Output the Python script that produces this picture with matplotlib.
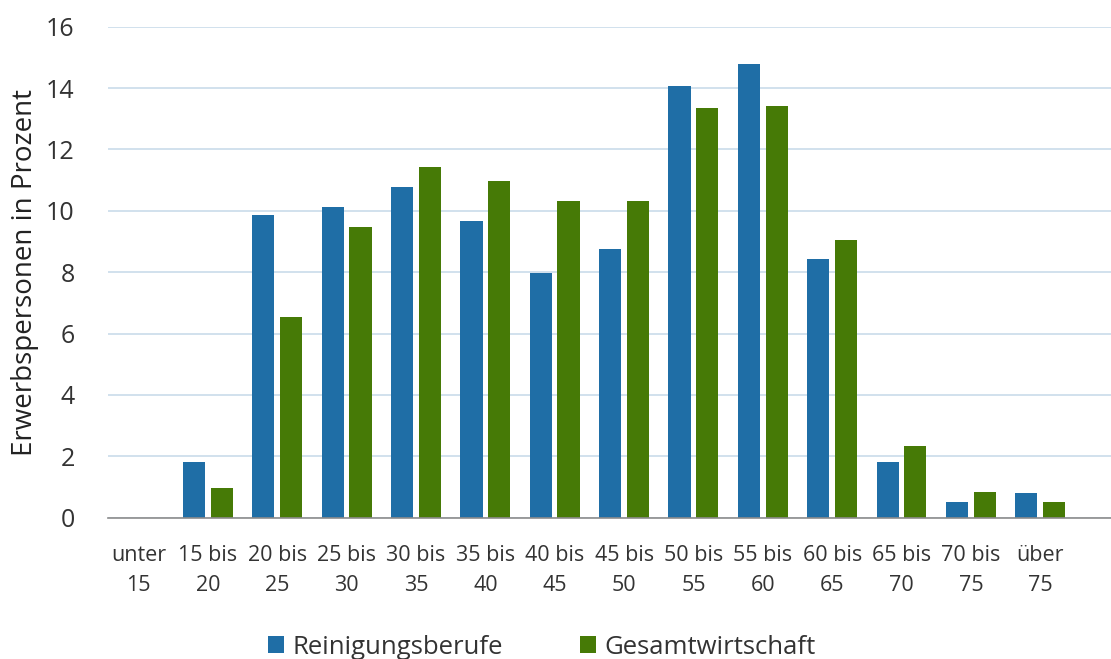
import numpy as np
import matplotlib
matplotlib.use("Agg")
import matplotlib.pyplot as plt

plt.rcParams['font.family'] = ['Open Sans', 'DejaVu Sans']

categories = ["unter\n15", "15 bis\n20", "20 bis\n25", "25 bis\n30", "30 bis\n35",
              "35 bis\n40", "40 bis\n45", "45 bis\n50", "50 bis\n55", "55 bis\n60",
              "60 bis\n65", "65 bis\n70", "70 bis\n75", "über\n75"]
reinigung = [0.0, 1.82, 9.86, 10.13, 10.79, 9.68, 7.97, 8.77, 14.06, 14.77, 8.44, 1.82, 0.52, 0.79]
gesamt = [0.0, 0.98, 6.53, 9.47, 11.44, 10.97, 10.33, 10.33, 13.34, 13.40, 9.04, 2.35, 0.85, 0.52]

blue = "#1f6ea6"
green = "#467a06"

fig = plt.figure(figsize=(11.11, 6.59), dpi=100)
ax = fig.add_axes([108 / 1111, 1 - 517.7 / 659, 1 - 108 / 1111, 491 / 659])

x = np.arange(len(categories))
w = 0.32
ax.bar(x - 0.2, reinigung, width=w, color=blue, label="Reinigungsberufe")
ax.bar(x + 0.2, gesamt, width=w, color=green, label="Gesamtwirtschaft")

ax.set_xlim(-0.44, 14.02)
ax.set_ylim(0, 16)
ax.set_yticks(range(0, 17, 2))
ax.yaxis.grid(True, color="#c9dcea", linewidth=1.2)
ax.set_axisbelow(True)
for s in ["top", "right", "left"]:
    ax.spines[s].set_visible(False)
ax.spines["bottom"].set_color("#8c8c8c")
ax.spines["bottom"].set_linewidth(1.2)

ax.set_xticks(x)
ax.set_xticklabels(categories, fontsize=15.5, color="#333333", linespacing=1.55)
ax.tick_params(axis="x", length=0, pad=20)
ax.tick_params(axis="y", length=0, pad=24, labelsize=18, labelcolor="#333333")
ax.set_ylabel("Erwerbspersonen in Prozent", fontsize=20, color="#222222", labelpad=5)

fig.legend(loc="center", bbox_to_anchor=(0.488, 0.018), ncol=2, frameon=False,
           fontsize=18.5, handlelength=0.6, handleheight=0.6, handletextpad=0.35,
           columnspacing=3.0, labelcolor="#333333")

fig.savefig("out.png", dpi=100)
